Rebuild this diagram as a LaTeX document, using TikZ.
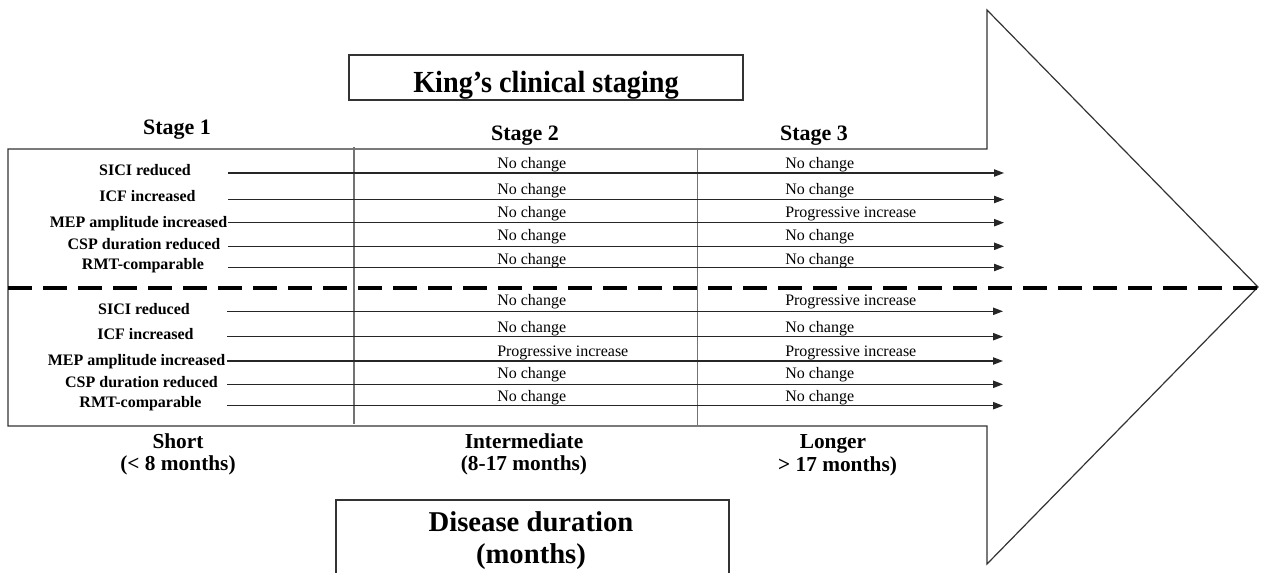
\documentclass[tikz,border=0pt]{standalone}
\usepackage{graphicx}
\usepackage{fontspec}
\setmainfont{Liberation Serif}
\usetikzlibrary{arrows.meta}
\begin{document}
\begin{tikzpicture}[x=0.75pt,y=-0.75pt,
  outline/.style={draw=black!80, line width=0.9pt},
  divider/.style={draw=black!55, line width=1.1pt},
  rowarrow/.style={draw=black!85, line width=0.9pt, -{Triangle[length=7.5pt,width=5.5pt]}},
  midline/.style={draw=black, line width=3pt, dash pattern=on 18pt off 8.25pt},
  rowlab/.style={font=\bfseries\fontsize{12}{14}\selectfont, inner sep=0pt, anchor=base},
  val/.style={font=\fontsize{12}{14}\selectfont, inner sep=0pt, anchor=base west},
  stagelab/.style={font=\bfseries\fontsize{16.5}{19}\selectfont, inner sep=0pt, anchor=base},
  durlab/.style={font=\bfseries\fontsize{16}{18}\selectfont, inner sep=0pt, anchor=base},
  bigtitle/.style={font=\bfseries\fontsize{21.5}{24}\selectfont, inner sep=0pt, anchor=base},
  titlebox/.style={outline, font=\bfseries\fontsize{23}{26}\selectfont, inner sep=0pt,
    minimum width=295.5pt, text height=28.5pt, text depth=5.25pt},
]
\useasboundingbox (0,0) rectangle (1261,573);

% big arrow (shaft + head)
\draw[outline] (8,149) -- (987,149) -- (987,10) -- (1258,287) -- (987,564)
  -- (987,426) -- (8,426) -- cycle;

% stage dividers
\coordinate (d1t) at (354,147);   \coordinate (d1b) at (354,424);
\coordinate (d2t) at (697.5,149); \coordinate (d2b) at (697.5,425);
\draw[divider] (d1t) -- (d1b);
\draw[divider] (d2t) -- (d2b);

% dashed middle line
\coordinate (ml) at (8,288); \coordinate (mr) at (1261,288);
\draw[midline] (ml) -- (mr);

% title box
\node[titlebox] (king) at (546,77.5) {\scalebox{0.92}[1]{King’s clinical staging}};

% stage labels
\node[stagelab] (st1) at (177,135) {Stage 1};
\node[stagelab] (st2) at (525,141) {Stage 2};
\node[stagelab] (st3) at (814,141) {Stage 3};

% upper group
\foreach \i/\y/\lx/\lb/\txt in {1/173/145/176/SICI reduced,
  2/199.5/147.5/201.7/ICF increased,
  3/222.7/138.5/227.7/MEP amplitude increased,
  4/246.3/144/250/CSP duration reduced,
  5/267.5/143/270/RMT-comparable} {
  \node[rowlab] (lu\i) at (\lx,\lb) {\txt};
  \coordinate (su\i) at (228,\y);
  \coordinate (eu\i) at (1004,\y);
  \draw[rowarrow] (su\i) -- (eu\i);
}
\foreach \i/\b/\two/\three in {1/168.3/No change/No change,
  2/194.3/No change/No change,
  3/217.7/No change/Progressive increase,
  4/241/No change/No change,
  5/264.3/No change/No change} {
  \node[val] (vua\i) at (497,\b) {\two};
  \node[val] (vub\i) at (785,\b) {\three};
}

% lower group
\foreach \i/\y/\lx/\lb/\txt in {1/311.3/144/314.3/SICI reduced,
  2/336.7/145.5/340/ICF increased,
  3/361/136.5/366/MEP amplitude increased,
  4/384.3/141.5/387.7/CSP duration reduced,
  5/405.7/140.5/407.7/RMT-comparable} {
  \node[rowlab] (ll\i) at (\lx,\lb) {\txt};
  \coordinate (sl\i) at (227,\y);
  \coordinate (el\i) at (1003,\y);
  \draw[rowarrow] (sl\i) -- (el\i);
}
\foreach \i/\b/\two/\three in {1/306/No change/Progressive increase,
  2/332.3/No change/No change,
  3/356.7/Progressive increase/Progressive increase,
  4/379/No change/No change,
  5/401.7/No change/No change} {
  \node[val] (vla\i) at (497,\b) {\two};
  \node[val] (vlb\i) at (785,\b) {\three};
}

% duration labels
\node[durlab] (short)  at (178,448.3) {Short};
\node[durlab] (shortm) at (178,471)   {(< 8 months)};
\node[durlab] (inter)  at (524,448.3) {Intermediate};
\node[durlab] (interm) at (524,471)   {(8-17 months)};
\node[durlab] (longer) at (833,448.3) {Longer};
\node[durlab] (longm)  at (837.5,472) {> 17 months)};

% disease duration box (open at bottom edge)
\draw[outline] (336,580) -- (336,500) -- (729,500) -- (729,580);
\node[bigtitle] (dis1) at (531,532) {Disease duration};
\node[bigtitle] (dis2) at (531,564) {(months)};
\end{tikzpicture}
\end{document}
